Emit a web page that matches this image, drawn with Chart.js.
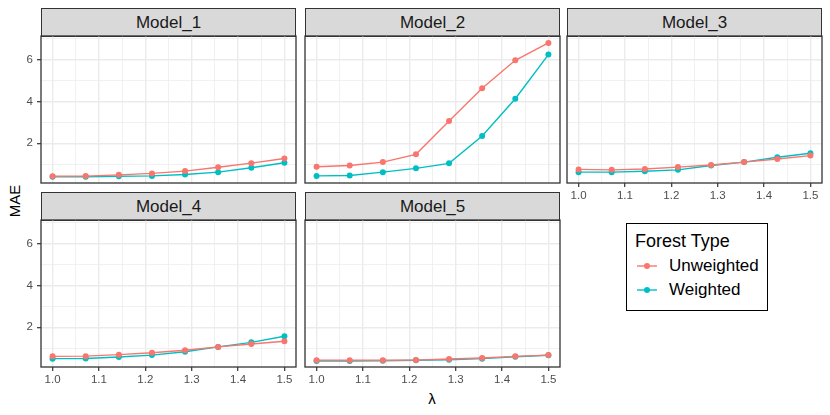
<!DOCTYPE html>
<html>
<head>
<meta charset="utf-8">
<script src="https://cdn.jsdelivr.net/npm/chart.js@4.4.0/dist/chart.umd.min.js"></script>
<style>
  body { margin: 0; background: #fff; font-family: "Liberation Sans", Arial, sans-serif; }
  #wrap { position: relative; width: 830px; height: 415px; overflow: hidden; }
  canvas { position: absolute; }
  .strip { position: absolute; box-sizing: border-box; background: #d9d9d9; border: 1.3px solid #333;
           color: #1a1a1a; font-size: 17px; text-align: center; line-height: 27px; }
  .title { position: absolute; color: #000; font-size: 15px; }
  #legend { position: absolute; left: 626px; top: 223px; width: 142px; height: 88px;
            box-sizing: border-box; border: 1.4px solid #000; }
  #legend .lt { position: absolute; left: 8px; top: 7px; font-size: 18px; color: #000; }
  #legend .li { position: absolute; left: 42px; font-size: 17px; color: #000; }
  #legend svg { position: absolute; left: 9px; }
</style>
</head>
<body>
<div id="wrap">
  <div class="title" style="left:14px;top:201px;transform:translate(-50%,-50%) rotate(-90deg);">MAE</div>
  <div class="title" style="left:432px;top:398px;transform:translate(-50%,-50%);">λ</div>
  <div id="legend">
    <div class="lt">Forest Type</div>
    <svg width="22" height="10" style="top:37px"><line x1="1" y1="5" x2="21" y2="5" stroke="#F8766D" stroke-width="1.4"/><circle cx="11" cy="5" r="3" fill="#F8766D"/></svg>
    <div class="li" style="top:32px">Unweighted</div>
    <svg width="22" height="10" style="top:61px"><line x1="1" y1="5" x2="21" y2="5" stroke="#00BFC4" stroke-width="1.4"/><circle cx="11" cy="5" r="3" fill="#00BFC4"/></svg>
    <div class="li" style="top:56px">Weighted</div>
  </div>
</div>
<script>
// lambda values on the x axis (8 steps from 1 to 1.5)
const lambdaVals = [1.0, 1.0714, 1.1429, 1.2143, 1.2857, 1.3571, 1.4286, 1.5];
const modelNames = ['Model_1', 'Model_2', 'Model_3', 'Model_4', 'Model_5'];
const seriesNames = ['Unweighted', 'Weighted'];

// MAE
const unweightedM1 = [0.42, 0.43, 0.49, 0.56, 0.67, 0.85, 1.05, 1.27];
const weightedM1   = [0.40, 0.40, 0.42, 0.44, 0.51, 0.62, 0.83, 1.07];
const unweightedM2 = [0.88, 0.94, 1.10, 1.47, 3.06, 4.63, 5.97, 6.80];
const weightedM2   = [0.44, 0.46, 0.62, 0.80, 1.04, 2.35, 4.13, 6.24];
const unweightedM3 = [0.75, 0.73, 0.77, 0.86, 0.96, 1.10, 1.25, 1.41];
const weightedM3   = [0.62, 0.62, 0.66, 0.73, 0.94, 1.10, 1.33, 1.52];
const unweightedM4 = [0.61, 0.62, 0.69, 0.78, 0.90, 1.06, 1.20, 1.33];
const weightedM4   = [0.50, 0.51, 0.58, 0.67, 0.83, 1.06, 1.28, 1.57];
const unweightedM5 = [0.42, 0.42, 0.42, 0.43, 0.48, 0.53, 0.61, 0.67];
const weightedM5   = [0.39, 0.39, 0.40, 0.42, 0.45, 0.50, 0.59, 0.66];

const unweighted = [unweightedM1, unweightedM2, unweightedM3, unweightedM4, unweightedM5];
const weighted = [weightedM1, weightedM2, weightedM3, weightedM4, weightedM5];

// major + minor grid positions
const xTicks = [1.0, 1.05, 1.1, 1.15, 1.2, 1.25, 1.3, 1.35, 1.4, 1.45, 1.5];
const yTicks = [1, 2, 3, 4, 5, 6, 7];

const colors = ['#F8766D', '#00BFC4'];
const FONT = '"Liberation Sans", Arial, sans-serif';

// panel boxes: col, row
const cols = [41, 305, 567];
const rows = [36, 220];
const stripTops = [8, 192];
const PW = 255, PH = 147;
const PAD = 16;

const isMajorX = v => Math.abs(v * 10 - Math.round(v * 10)) < 1e-6;
const isMajorY = v => v % 2 === 0;

const panelBorder = {
  id: 'panelBorder',
  afterDraw(chart) {
    const a = chart.chartArea, c = chart.ctx;
    c.save();
    c.strokeStyle = '#333';
    c.lineWidth = 1.3;
    c.strokeRect(a.left, a.top, a.right - a.left, a.bottom - a.top);
    c.restore();
  }
};

const wrap = document.getElementById('wrap');

modelNames.forEach((name, i) => {
  const col = i % 3, row = Math.floor(i / 3);
  const hasY = col === 0;
  const hasX = row === 1 || col === 2;
  const yW = hasY ? 30 : 0;
  const xH = hasX ? 22 : 0;
  const L = cols[col], T = rows[row];

  // strip header
  const strip = document.createElement('div');
  strip.className = 'strip';
  strip.style.left = L + 'px';
  strip.style.top = stripTops[row] + 'px';
  strip.style.width = PW + 'px';
  strip.style.height = (T - stripTops[row] + 1) + 'px';
  strip.textContent = name;
  wrap.appendChild(strip);

  const cv = document.createElement('canvas');
  const w = PAD + yW + PW + PAD, h = PAD + PH + xH + PAD;
  cv.width = w; cv.height = h;
  cv.style.width = w + 'px'; cv.style.height = h + 'px';
  cv.style.left = (L - PAD - yW) + 'px';
  cv.style.top = (T - PAD) + 'px';
  wrap.appendChild(cv);

  const series = [unweighted[i], weighted[i]];

  new Chart(cv, {
    type: 'line',
    data: {
      datasets: series.map((vals, k) => ({
        label: seriesNames[k],
        data: lambdaVals.map((x, j) => ({ x: x, y: vals[j] })),
        borderColor: colors[k],
        backgroundColor: colors[k],
        borderWidth: 1.4,
        pointRadius: 3,
        pointBorderWidth: 0,
        tension: 0
      }))
    },
    options: {
      responsive: false,
      animation: false,
      devicePixelRatio: 1,
      layout: { padding: PAD },
      plugins: { legend: { display: false }, tooltip: { enabled: false } },
      scales: {
        x: {
          type: 'linear', min: 0.975, max: 1.525,
          afterBuildTicks: s => { s.ticks = xTicks.map(v => ({ value: v })); },
          afterFit: s => { s.height = xH; },
          border: { display: false },
          grid: {
            color: '#ebebeb',
            lineWidth: c => isMajorX(c.tick.value) ? 1.4 : 0.7,
            drawTicks: hasX,
            tickLength: 4,
            tickWidth: 1.2,
            tickColor: c => isMajorX(c.tick.value) ? '#333' : 'rgba(0,0,0,0)'
          },
          ticks: {
            display: hasX, autoSkip: false, maxRotation: 0, padding: 2,
            color: '#4d4d4d', font: { family: FONT, size: 11.5 },
            callback: v => isMajorX(v) ? v.toFixed(1) : ''
          }
        },
        y: {
          type: 'linear', min: 0.1, max: 7.13,
          afterBuildTicks: s => { s.ticks = yTicks.map(v => ({ value: v })); },
          afterFit: s => { s.width = yW; },
          border: { display: false },
          grid: {
            color: '#ebebeb',
            lineWidth: c => isMajorY(c.tick.value) ? 1.4 : 0.7,
            drawTicks: hasY,
            tickLength: 4,
            tickWidth: 1.2,
            tickColor: c => isMajorY(c.tick.value) ? '#333' : 'rgba(0,0,0,0)'
          },
          ticks: {
            display: hasY, autoSkip: false, padding: 4,
            color: '#4d4d4d', font: { family: FONT, size: 11.5 },
            callback: v => isMajorY(v) ? String(v) : ''
          }
        }
      }
    },
    plugins: [panelBorder]
  });
});
</script>
</body>
</html>
